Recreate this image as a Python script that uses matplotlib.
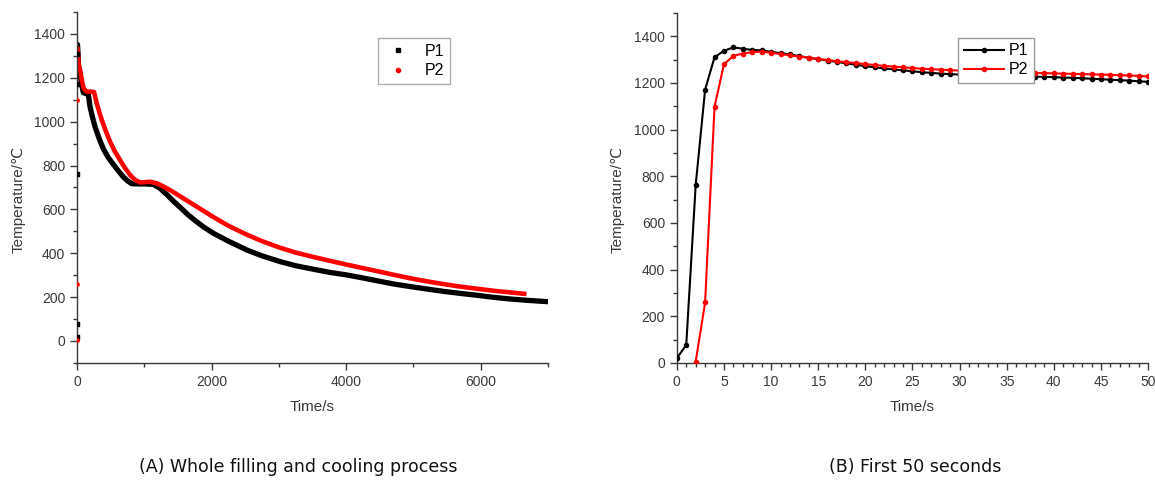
import matplotlib
matplotlib.use("Agg")
import matplotlib.pyplot as plt
from matplotlib.ticker import MultipleLocator
from matplotlib.lines import Line2D

plt.rcParams['font.family'] = ['Liberation Sans', 'DejaVu Sans']

# ---- Panel B data: first 50 seconds ----
t_b_p1 = list(range(0, 51))
T_b_p1 = [20, 77, 762, 1171, 1310, 1338, 1352, 1347, 1341, 1340,
          1333, 1328, 1322, 1315, 1308, 1302, 1296, 1290, 1284, 1278,
          1272, 1267, 1262, 1258, 1254, 1250, 1246, 1243, 1240, 1238,
          1236, 1234, 1233, 1232, 1231, 1230, 1229, 1228, 1227, 1226,
          1225, 1223, 1222, 1220, 1218, 1216, 1214, 1212, 1210, 1207, 1205]
t_b_p2 = list(range(2, 51))
T_b_p2 = [5, 259, 1098, 1280, 1316, 1326, 1332, 1334,
          1330, 1324, 1318, 1313, 1308, 1303, 1298, 1293, 1289, 1285,
          1281, 1277, 1273, 1270, 1267, 1264, 1261, 1259, 1257, 1255,
          1253, 1251, 1250, 1248, 1247, 1246, 1245, 1244, 1243, 1242,
          1241, 1240, 1239, 1238, 1237, 1236, 1235, 1233, 1232, 1230, 1228]

# ---- Panel A data: whole filling and cooling process (after 50 s) ----
t_a_p1 = [70, 94, 130, 168, 193, 230, 267, 330, 391, 460, 540, 610, 689, 750,
          812, 900, 1000, 1134, 1233, 1333, 1430, 1530, 1640, 1750, 1880,
          2026, 2250, 2521, 2750, 3016, 3250, 3512, 3750, 4007, 4200, 4450,
          4700, 4950, 5196, 5450, 5691, 5950, 6186, 6450, 6700, 7000]
T_a_p1 = [1167, 1132, 1128, 1125, 1068, 1020, 977, 922, 876, 838, 805, 777,
          748, 730, 717, 716, 716, 714, 696, 668, 638, 610, 578, 550, 520,
          491, 455, 415, 388, 362, 343, 327, 313, 301, 290, 275, 260, 248,
          237, 226, 217, 208, 199, 191, 185, 179]
t_a_p2 = [70, 100, 144, 200, 253, 292, 330, 367, 430, 490, 560, 639, 710, 788,
          860, 936, 1000, 1085, 1184, 1280, 1382, 1530, 1750, 2026, 2250,
          2521, 2750, 3016, 3250, 3512, 3750, 4007, 4205, 4450, 4700, 4950,
          5196, 5450, 5691, 5950, 6186, 6450, 6680]
T_a_p2 = [1190, 1150, 1137, 1137, 1135, 1084, 1045, 1008, 955, 909, 865, 825,
          790, 757, 735, 723, 724, 726, 719, 705, 688, 660, 618, 565, 525,
          485, 455, 425, 403, 383, 366, 348, 335, 319, 302, 286, 272, 259,
          248, 238, 229, 221, 214]

series_names = ["P1", "P2"]
captions = ["(A) Whole filling and cooling process", "(B) First 50 seconds"]

BLACK = "#000000"
RED = "#ff0000"
AXC = "#3a3a3a"

fig = plt.figure(figsize=(11.55, 4.8), dpi=100)
axA = fig.add_axes([0.0667, 0.244, 0.4078, 0.731])
axB = fig.add_axes([0.586, 0.244, 0.408, 0.729])


def style(ax):
    for s in ["top", "right"]:
        ax.spines[s].set_visible(False)
    for s in ["left", "bottom"]:
        ax.spines[s].set_color(AXC)
        ax.spines[s].set_linewidth(1.0)
    ax.tick_params(which="major", direction="out", length=5, width=1,
                   color=AXC, labelcolor=AXC, labelsize=10)
    ax.tick_params(which="minor", direction="out", length=3, width=1,
                   color=AXC)
    ax.set_xlabel("Time/s", fontsize=11, color=AXC, labelpad=8)
    ax.set_ylabel("Temperature/\u2103", fontsize=11, color=AXC)
    ax.yaxis.set_label_coords(-0.11, 0.467)


# Panel A
axA.scatter(t_b_p1[:5], T_b_p1[:5], s=6, marker="s", color=BLACK, zorder=3)
axA.scatter(t_b_p2[:3], T_b_p2[:3], s=6, marker="o", color=RED, zorder=3)
axA.plot(t_b_p1[4:] + t_a_p1, T_b_p1[4:] + T_a_p1,
         color=BLACK, lw=3.8, solid_capstyle="butt", solid_joinstyle="round", zorder=2)
axA.plot(t_b_p2[3:] + t_a_p2, T_b_p2[3:] + T_a_p2,
         color=RED, lw=3.3, solid_capstyle="butt", solid_joinstyle="round", zorder=2)
axA.set_xlim(0, 7000)
axA.set_ylim(-100, 1500)
axA.xaxis.set_major_locator(MultipleLocator(2000))
axA.xaxis.set_minor_locator(MultipleLocator(1000))
axA.yaxis.set_major_locator(MultipleLocator(200))
axA.yaxis.set_minor_locator(MultipleLocator(100))
style(axA)
hA = [Line2D([], [], ls="none", marker="s", ms=3, color=BLACK),
      Line2D([], [], ls="none", marker="o", ms=3, color=RED)]
legA = axA.legend(hA, series_names, loc="upper left", bbox_to_anchor=(0.639, 0.926),
                  fontsize=11.5, frameon=True, fancybox=False, borderpad=0.35,
                  handlelength=1.8, handletextpad=0.8, labelspacing=0.3,
                  borderaxespad=0)
legA.get_frame().set_edgecolor("#999999")
legA.get_frame().set_linewidth(1.0)

# Panel B
axB.plot(t_b_p1, T_b_p1, color=BLACK, lw=1.5, marker="o", ms=3, zorder=3)
axB.plot(t_b_p2, T_b_p2, color=RED, lw=1.5, marker="o", ms=3, zorder=3)
axB.set_xlim(0, 50)
axB.set_ylim(0, 1500)
axB.xaxis.set_major_locator(MultipleLocator(5))
axB.xaxis.set_minor_locator(MultipleLocator(1))
axB.yaxis.set_major_locator(MultipleLocator(200))
axB.yaxis.set_minor_locator(MultipleLocator(100))
style(axB)
hB = [Line2D([], [], color=BLACK, lw=1.5, marker="o", ms=3),
      Line2D([], [], color=RED, lw=1.5, marker="o", ms=3)]
legB = axB.legend(hB, series_names, loc="upper left", bbox_to_anchor=(0.597, 0.929),
                  fontsize=11.5, frameon=True, fancybox=False, borderpad=0.35,
                  handlelength=2.5, handletextpad=0.3, labelspacing=0.25,
                  framealpha=1.0, borderaxespad=0)
legB.get_frame().set_edgecolor("#999999")
legB.get_frame().set_linewidth(1.0)

fig.text(298 / 1155, 1 - 467 / 480, captions[0], ha="center", va="center",
         fontsize=12.5, family=["DejaVu Sans"], color="#111111")
fig.text(915 / 1155, 1 - 467 / 480, captions[1], ha="center", va="center",
         fontsize=12.5, family=["DejaVu Sans"], color="#111111")

fig.savefig("out.png", dpi=100)
